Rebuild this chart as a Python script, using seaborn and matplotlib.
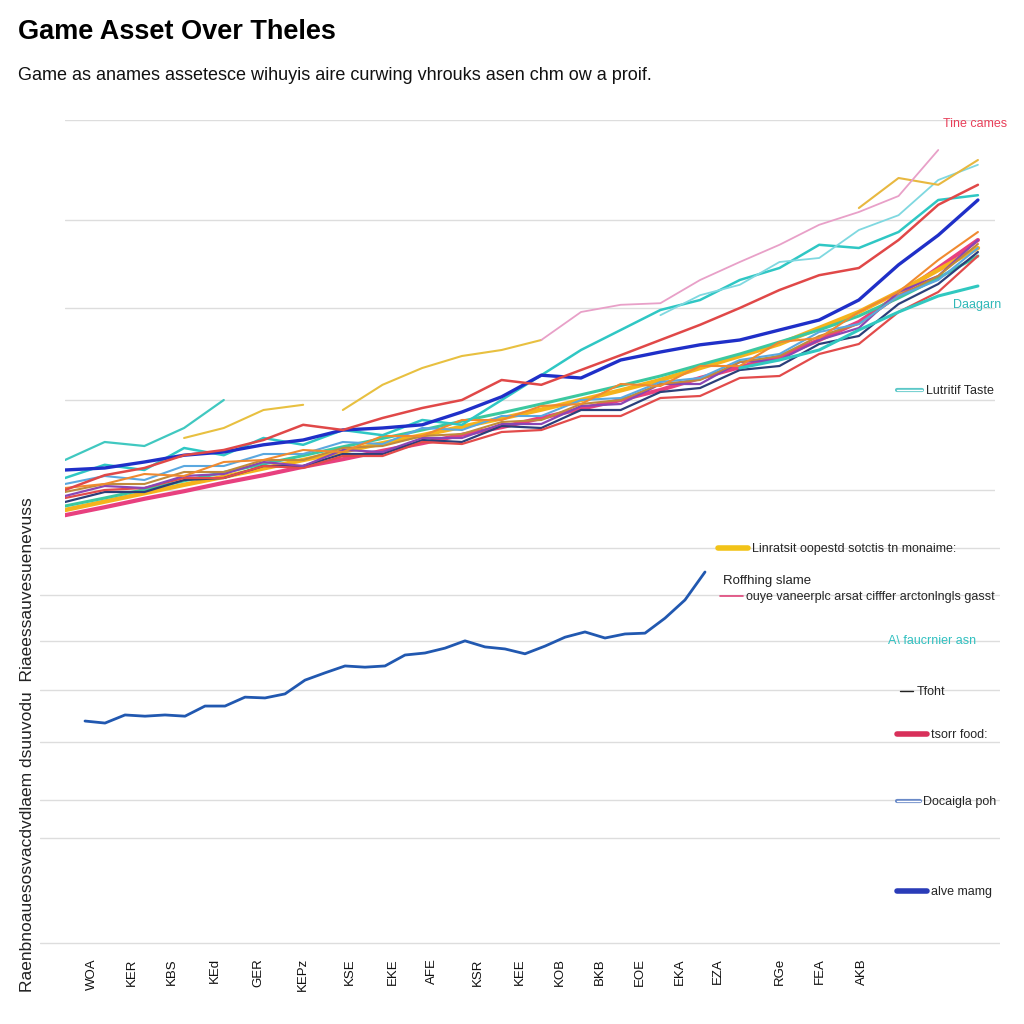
import numpy as np
import pandas as pd
import matplotlib
matplotlib.use("Agg")
import matplotlib.pyplot as plt
import seaborn as sns
from matplotlib.lines import Line2D
from matplotlib.legend_handler import HandlerTuple

nan = np.nan

# top panel: many asset series over 24 periods
periods = list(range(24))
teal_short = [15.0, 19.5, 18.5, 23.0, 30.0] + [nan] * 19
gold_a = [nan] * 3 + [20.5, 23.0, 27.5, 28.8] + [nan] * 17
gold_b = [nan] * 7 + [27.5, 33.8, 38.0, 41.0, 42.5, 45.0] + [nan] * 11
pink = [nan] * 12 + [45.0, 52.0, 53.8, 54.2, 60.0, 64.5, 68.8, 73.8, 77.0, 81.0, 92.5, nan]
gold_c = [nan] * 20 + [78.0, 85.5, 83.8, 90.0]
red = [7.5, 11.2, 13.0, 16.2, 17.5, 20.0, 23.8, 22.5, 25.5, 28.0, 30.0, 35.0,
       33.8, 37.5, 41.2, 45.0, 48.8, 53.0, 57.5, 61.2, 63.0, 70.0, 78.8, 83.8]
blue = [12.5, 13.0, 14.5, 16.2, 17.0, 18.8, 20.0, 22.5, 23.0, 23.8, 27.0, 30.8,
        36.2, 35.5, 40.0, 42.0, 43.8, 45.0, 47.5, 50.0, 55.0, 63.8, 71.2, 80.0]
teal = [10.5, 13.8, 12.5, 18.0, 16.2, 20.5, 18.8, 22.5, 21.2, 25.0, 23.8, 30.0,
        36.2, 42.5, 47.5, 52.5, 55.0, 60.0, 63.0, 68.8, 68.0, 72.0, 80.0, 81.2]
light_cyan = [nan] * 15 + [51.2, 56.2, 58.8, 64.5, 65.5, 72.5, 76.2, 85.0, 88.8]
teal_low = [nan] * 17 + [38.0, 40.0, 42.5, 47.5, 52.0, 56.0, 58.5]
purple = [6.0, 8.5, 8.0, 11.0, 11.5, 14.5, 13.5, 17.5, 17.0, 20.5, 20.5, 24.0,
          24.0, 28.5, 29.0, 34.0, 34.0, 39.5, 40.0, 45.0, 48.0, 57.0, 61.0, 70.0]
navy = [4.5, 7.0, 7.0, 10.0, 10.5, 13.5, 13.5, 16.5, 16.5, 20.0, 19.5, 23.5,
        23.0, 27.5, 27.5, 32.0, 33.0, 37.5, 38.5, 44.0, 46.0, 54.0, 59.0, 67.0]
orange = [8.0, 9.0, 11.5, 11.0, 14.5, 15.0, 17.5, 17.0, 21.0, 21.0, 25.0, 25.0,
          28.5, 29.0, 34.0, 33.5, 38.5, 38.5, 44.5, 45.5, 52.0, 57.0, 65.0, 72.0]
sky = [9.0, 11.0, 10.0, 13.5, 13.5, 16.5, 16.5, 19.5, 19.0, 23.0, 22.5, 26.0,
       26.0, 30.0, 30.5, 34.5, 35.5, 40.0, 41.5, 47.0, 49.0, 56.0, 60.0, 68.0]
coral = [5.5, 7.5, 8.0, 10.5, 10.5, 13.5, 13.0, 16.0, 16.0, 19.5, 19.0, 22.0,
         22.5, 26.0, 26.0, 30.5, 31.0, 35.5, 36.0, 41.5, 44.0, 52.0, 57.0, 66.0]
olive = [7.0, 9.0, 9.0, 12.0, 12.0, 15.0, 15.0, 18.0, 18.5, 21.0, 21.5, 24.5,
         25.0, 29.0, 30.0, 34.0, 35.0, 39.5, 41.0, 46.0, 49.0, 56.0, 61.0, 69.0]
green_smooth = [3.5, 5.5, 7.6, 9.8, 11.9, 14.0, 16.1, 18.3, 20.4, 22.5, 24.7, 26.8,
                29.0, 31.3, 33.6, 36.0, 38.8, 41.5, 44.5, 47.5, 51.0, 55.5, 60.5, 66.0]
orange_smooth = [2.5, 4.6, 6.7, 8.8, 10.8, 12.9, 15.0, 17.1, 19.2, 21.2, 23.3, 25.4,
                 27.6, 30.0, 32.4, 35.0, 38.0, 41.0, 44.0, 48.0, 52.0, 57.0, 62.5, 68.0]
magenta_smooth = [1.2, 3.2, 5.3, 7.2, 9.3, 11.2, 13.3, 15.2, 17.3, 19.2, 21.3, 23.2,
                  25.5, 27.8, 30.0, 32.5, 35.5, 38.2, 40.8, 45.0, 49.5, 56.2, 63.0, 70.0]

# bottom panel: single asset
month_pos = [2.25 + i for i in range(32)]
asset_value = [55.3, 54.8, 56.8, 56.5, 56.8, 56.5, 59.0, 59.0, 61.2, 61.0, 62.0, 65.4,
               67.2, 68.9, 68.6, 68.9, 71.6, 72.1, 73.3, 75.1, 73.6, 73.1, 71.9, 73.8,
               76.0, 77.3, 75.8, 76.8, 77.0, 80.7, 85.2, 92.1]
tick_pos = [2.6, 4.6, 6.6, 8.75, 10.9, 13.15, 15.5, 17.65, 19.6, 21.9, 24.0, 26.0,
            28.0, 30.0, 32.0, 33.9, 37.0, 39.0, 41.1]
tick_labels = ["WOA", "KER", "KBS", "KEd", "GER", "KEPz", "KSE", "EKE", "AFE", "KSR",
               "KEE", "KOB", "BKB", "EOE", "EKA", "EZA", "RGe", "FEA", "AKB"]

sns.set_theme(style="white")
plt.rcParams["font.family"] = ["Liberation Sans", "DejaVu Sans"]

fig = plt.figure(figsize=(10.24, 10.24), dpi=100)
ax = fig.add_axes([65 / 1024, 1 - 520 / 1024, 930 / 1024, 400 / 1024])
ax2 = fig.add_axes([40 / 1024, 1 - 945 / 1024, 960 / 1024, 405 / 1024])

top_series = [
    (magenta_smooth, "#e8407f", 3.0),
    (orange_smooth, "#f5b31c", 3.2),
    (green_smooth, "#3cc8a0", 2.2),
    (navy, "#2b3f7a", 1.6),
    (coral, "#e24b4b", 1.6),
    (purple, "#8a46b4", 1.6),
    (olive, "#c08a3c", 1.5),
    (sky, "#5aa8e0", 1.5),
    (orange, "#f08a30", 1.5),
    (teal_low, "#30c8c0", 2.2),
    (teal, "#2fc7c4", 1.8),
    (light_cyan, "#7fd8e0", 1.3),
    (blue, "#1f2fc8", 2.4),
    (red, "#e04848", 1.8),
    (gold_a, "#e8c040", 1.5),
    (gold_b, "#e8c040", 1.5),
    (gold_c, "#e8b840", 1.5),
    (pink, "#e8a0c8", 1.3),
    (teal_short, "#40c8c0", 1.6),
]
for vals, col, lw in top_series:
    df = pd.DataFrame({"period": periods, "value": vals}).dropna()
    sns.lineplot(data=df, x="period", y="value", color=col, lw=lw, ax=ax)

ax.set_xlim(0, 23.43)
ax.set_ylim(0, 100)
ax.set_yticks([7.5, 30, 53, 75, 100])
ax.set_xticks([])
ax.yaxis.grid(True, color="#dddddd", lw=1)
ax.tick_params(left=False, labelleft=False)
ax.set_xlabel("")
ax.set_ylabel("")
for s in ax.spines.values():
    s.set_visible(False)

sns.lineplot(x=month_pos, y=asset_value, color="#2158b0", lw=2.0, ax=ax2)
ax2.set_xlim(0, 48)
ax2.set_ylim(0, 100)
ax2.set_yticks([0.5, 26.4, 35.8, 50.1, 63.0, 75.1, 86.4, 98.0])
ax2.yaxis.grid(True, color="#dddddd", lw=1)
ax2.tick_params(left=False, labelleft=False, bottom=False)
ax2.set_xticks(tick_pos)
ax2.set_xticklabels(tick_labels, rotation=90, fontsize=9.5, color="#111111")
for s in ax2.spines.values():
    s.set_visible(False)

fig.text(18 / 1024, 1 - 32 / 1024, "Game Asset Over Theles", fontsize=19.5,
         fontweight="bold", va="center", ha="left", family="Liberation Sans",
         color="black")
fig.text(18 / 1024, 1 - 75 / 1024,
         "Game as anames assetesce wihuyis aire curwing vhrouks asen chm ow a proif.",
         fontsize=13, va="center", ha="left", color="#111111")
fig.text(28 / 1024, 1 - 745 / 1024,
         "Raenbnoauesosvacdvdlaem dsuuvodu  Riaeessauvesuenevuss",
         rotation=90, fontsize=12.5, va="center", ha="center", color="#222222")

# right-side labels
fig.text(943 / 1024, 1 - 124 / 1024, "Tine cames", fontsize=9, color="#e8405a", va="center")
fig.text(953 / 1024, 1 - 305 / 1024, "Daagarn", fontsize=9, color="#30b8b8", va="center")
fig.text(723 / 1024, 1 - 581 / 1024, "Roffhing slame", fontsize=9.5, color="#222222", va="center")
fig.text(888 / 1024, 1 - 641 / 1024, "A\\ faucrnier asn", fontsize=9, color="#30c0c0", va="center")


def side_entry(x, y, handle, text, hl=2.4):
    fig.legend(handles=[handle], labels=[text], loc="center left",
               bbox_to_anchor=(x / 1024, 1 - y / 1024), frameon=False,
               borderpad=0, borderaxespad=0, handletextpad=0.3,
               handlelength=hl, fontsize=9,
               handler_map={tuple: HandlerTuple(ndivide=1)})


dbl_teal = (Line2D([], [], color="#5cc8c8", lw=3), Line2D([], [], color="white", lw=1))
dbl_blue = (Line2D([], [], color="#6a8ac8", lw=3), Line2D([], [], color="white", lw=1))
side_entry(897, 391, dbl_teal, "Lutritif Taste", 2.0)
side_entry(718, 549, Line2D([], [], color="#f2c318", lw=4), "Linratsit oopestd sotctis tn monaime:")
side_entry(720, 597, Line2D([], [], color="#e0457a", lw=1.2), "ouye vaneerplc arsat cifffer arctonlngls gasst", 1.8)
side_entry(900, 692, Line2D([], [], color="#222222", lw=1), "Tfoht", 1.0)
side_entry(897, 735, Line2D([], [], color="#d8305a", lw=4), "tsorr food:")
side_entry(897, 802, dbl_blue, "Docaigla poh", 1.8)
side_entry(897, 892, Line2D([], [], color="#2a3cb8", lw=4), "alve mamg")

fig.savefig("out.png", dpi=100, facecolor="white")
